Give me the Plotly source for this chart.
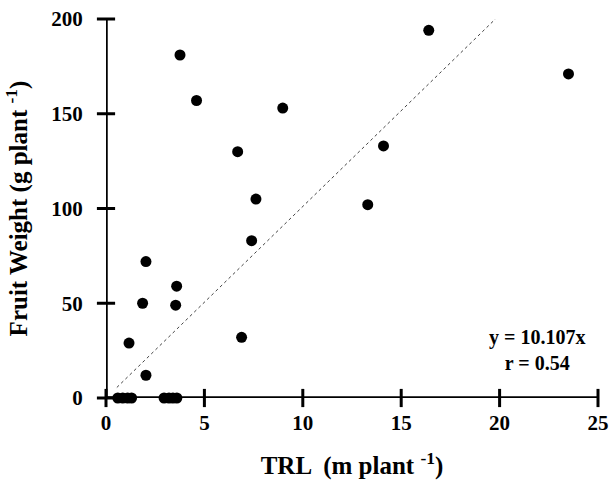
import plotly.graph_objects as go

# Data
trl = [23.5, 16.4, 14.1, 13.3, 3.76, 4.6, 8.98, 6.69, 7.62, 7.4, 2.03, 1.86, 3.59, 3.54,
       1.17, 2.03, 6.89, 0.6, 0.85, 1.1, 1.3, 2.95, 3.2, 3.4, 3.6]
fruit_weight = [171, 194, 133, 102, 181, 157, 153, 130, 105, 83, 72, 50, 59, 49,
                29, 12, 32, 0, 0, 0, 0, 0, 0, 0, 0]
slope = 10.107
fit_x = [0.55, 200 / slope]
fit_y = [slope * v for v in fit_x]
x_ticks = [0, 5, 10, 15, 20, 25]
y_ticks = [0, 50, 100, 150, 200]
x_range = [0, 25]
y_range = [0, 200]

FONT = "Liberation Serif, Times New Roman, serif"
W, H = 609, 486
M = dict(l=106, r=11, t=19, b=88)
AXIS_W = 3.5

fig = go.Figure()
fig.add_trace(go.Scatter(x=fit_x, y=fit_y, mode="lines",
                         line=dict(color="#444444", width=1, dash="dot"),
                         hoverinfo="skip", showlegend=False, cliponaxis=False))
# axis lines drawn as line traces along the axis ranges
fig.add_trace(go.Scatter(x=x_range, y=[y_range[0]] * 2, mode="lines",
                         line=dict(color="black", width=AXIS_W),
                         hoverinfo="skip", showlegend=False, cliponaxis=False))
fig.add_trace(go.Scatter(x=[x_range[0]] * 2, y=y_range, mode="lines",
                         line=dict(color="black", width=AXIS_W),
                         hoverinfo="skip", showlegend=False, cliponaxis=False))
# crossing tick marks
fig.add_trace(go.Scatter(x=x_ticks, y=[y_range[0]] * len(x_ticks), mode="markers",
                         marker=dict(symbol="line-ns", size=13,
                                     line=dict(color="black", width=3)),
                         hoverinfo="skip", showlegend=False, cliponaxis=False))
fig.add_trace(go.Scatter(x=[x_range[0]] * len(y_ticks), y=y_ticks, mode="markers",
                         marker=dict(symbol="line-ew", size=13,
                                     line=dict(color="black", width=3)),
                         hoverinfo="skip", showlegend=False, cliponaxis=False))
# data points
fig.add_trace(go.Scatter(x=trl, y=fruit_weight, mode="markers",
                         marker=dict(color="black", size=11),
                         showlegend=False, cliponaxis=False))

tick_font = dict(family=FONT, size=21, color="black")
title_font = dict(family=FONT, size=25, color="black")

fig.update_layout(
    width=W, height=H,
    margin=dict(**M, autoexpand=False),
    paper_bgcolor="white", plot_bgcolor="white",
    xaxis=dict(range=x_range, tickvals=x_ticks, ticktext=[f"<b>{v}</b>" for v in x_ticks],
               showgrid=False, zeroline=False, showline=False,
               ticks="outside", ticklen=6, tickwidth=3, tickcolor="rgba(0,0,0,0)",
               tickfont=tick_font,
               title=dict(text="<b>TRL  (m plant <sup>-1</sup>)</b>", standoff=22, font=title_font)),
    yaxis=dict(range=y_range, tickvals=y_ticks, ticktext=[f"<b>{v}</b>" for v in y_ticks],
               showgrid=False, zeroline=False, showline=False,
               ticks="outside", ticklen=6, tickwidth=3, tickcolor="rgba(0,0,0,0)",
               tickfont=tick_font, ticklabelstandoff=12,
               title=dict(text="<b>Fruit Weight (g plant <sup>-1</sup>)</b>", standoff=16,
                          font=title_font)),
    annotations=[dict(x=0.876, y=0.126, xref="paper", yref="paper", showarrow=False,
                      xanchor="center", yanchor="middle", align="center",
                      text="<b>y = 10.107x<br>r = 0.54</b>",
                      font=dict(family=FONT, size=20, color="black"))],
)

fig.write_html("out.html", config={"displayModeBar": False},
               post_script="document.body.style.margin='0';document.body.style.overflow='hidden';")
